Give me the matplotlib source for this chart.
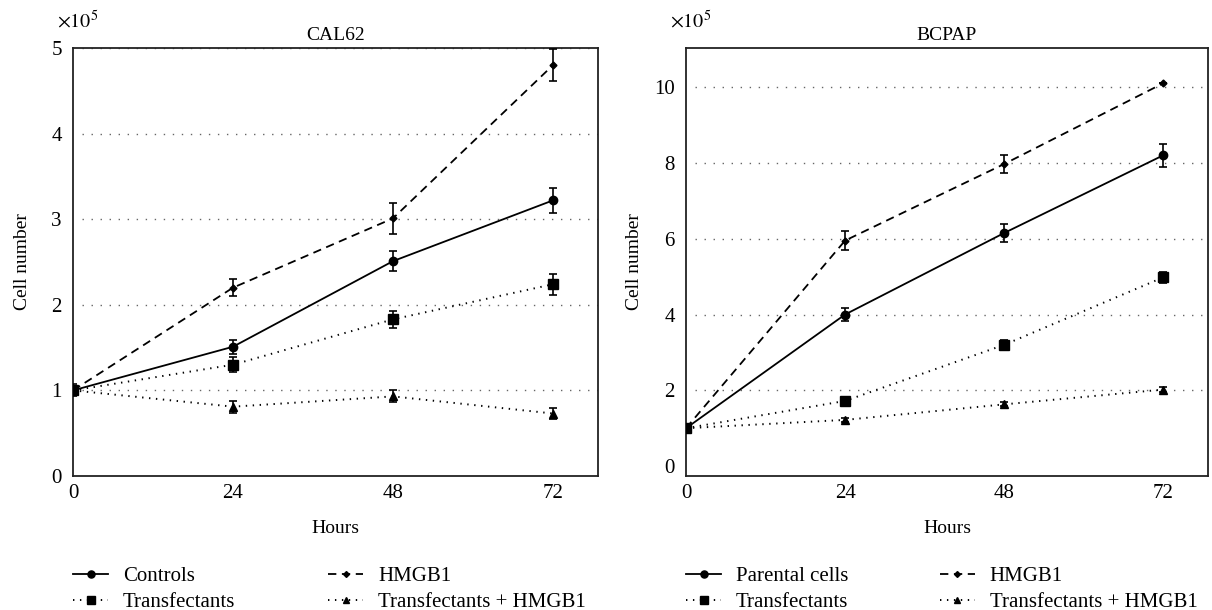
import matplotlib
matplotlib.use("Agg")
import matplotlib.pyplot as plt

plt.rcParams['font.family'] = ['Liberation Serif', 'DejaVu Serif']
plt.rcParams['mathtext.fontset'] = 'stix'
plt.rcParams['lines.scale_dashes'] = False

hours = [0, 24, 48, 72]
x_ticks = [0, 24, 48, 72]

# CAL62 (x10^5 cells)
cal_controls = [1.0, 1.51, 2.51, 3.22]
cal_controls_err = [0.04, 0.08, 0.12, 0.15]
cal_hmgb1 = [1.0, 2.2, 3.01, 4.8]
cal_hmgb1_err = [0.04, 0.1, 0.18, 0.19]
cal_transf = [1.0, 1.3, 1.83, 2.24]
cal_transf_err = [0.07, 0.09, 0.1, 0.12]
cal_transf_hmgb1 = [1.0, 0.81, 0.93, 0.73]
cal_transf_hmgb1_err = [0.05, 0.07, 0.07, 0.06]
cal_yticks = [0, 1, 2, 3, 4, 5]

# BCPAP (x10^5 cells)
bc_parental = [1.0, 4.0, 6.15, 8.2]
bc_parental_err = [0.0, 0.18, 0.25, 0.3]
bc_hmgb1 = [1.0, 5.95, 7.97, 10.1]
bc_hmgb1_err = [0.0, 0.25, 0.25, 0.0]
bc_transf = [1.0, 1.72, 3.2, 4.98]
bc_transf_err = [0.0, 0.04, 0.12, 0.15]
bc_transf_hmgb1 = [1.0, 1.22, 1.63, 2.02]
bc_transf_hmgb1_err = [0.0, 0.06, 0.05, 0.07]
bc_yticks = [0, 2, 4, 6, 8, 10]

fig = plt.figure(figsize=(12.12, 6.10), dpi=100)
W, H = 1212, 610
ax1 = fig.add_axes([73 / W, (H - 476) / H, 525 / W, 428 / H])
ax2 = fig.add_axes([686 / W, (H - 476) / H, 522 / W, 428 / H])

styles = {
    'solid': dict(ls='-', marker='o', ms=6, lw=1.3),
    'dash': dict(ls=(0, (6, 4)), marker='D', ms=3.5, lw=1.3),
    'dotsq': dict(ls=(0, (1, 4)), marker='s', ms=6.5, lw=1.4),
    'dottri': dict(ls=(0, (1, 4)), marker='^', ms=5.5, lw=1.4),
}


def draw(ax, series, title, yticks, ylim, ylab_x):
    handles = {}
    for key, (y, e, lab) in series:
        ax.errorbar(hours, y, yerr=e, fmt='none', ecolor='black', elinewidth=1.2,
                    capsize=3, capthick=1.2, zorder=3)
    for key, (y, e, lab) in series:
        st = styles[key]
        h, = ax.plot(hours, y, color='black', linestyle=st['ls'], marker=st['marker'],
                     markersize=st['ms'], linewidth=st['lw'], markerfacecolor='black',
                     markeredgecolor='black', label=lab, zorder=4)
        handles[key] = h
    ax.set_xlim(0, 78.75)
    ax.set_ylim(*ylim)
    ax.set_xticks(x_ticks)
    ax.set_xticklabels([str(v) for v in x_ticks])
    ax.set_yticks(yticks)
    ax.set_yticklabels([str(v) for v in yticks])
    ax.tick_params(length=0, labelsize=15)
    ax.tick_params(axis='y', pad=8)
    ax.tick_params(axis='x', pad=6)
    for sp in ax.spines.values():
        sp.set_linewidth(1.3)
        sp.set_color('#222222')
    for t in yticks[1:]:
        ax.axhline(t, xmin=0.017, xmax=1, color='#666666', lw=1.0,
                   ls=(0, (1, 5.5)), zorder=1)
    ax.set_title(title, fontsize=14, pad=6)
    ax.set_xlabel('Hours', fontsize=14)
    ax.set_ylabel('Cell number', fontsize=14)
    ax.xaxis.set_label_coords(0.5, -0.102)
    ax.yaxis.set_label_coords(ylab_x, 0.5)
    ax.text(-0.03, 1.06, r'$\times10^5$', transform=ax.transAxes, fontsize=14.5,
            ha='left', va='center')
    return handles


s1 = [
    ('solid', (cal_controls, cal_controls_err, 'Controls')),
    ('dash', (cal_hmgb1, cal_hmgb1_err, 'HMGB1')),
    ('dottri', (cal_transf_hmgb1, cal_transf_hmgb1_err, 'Transfectants + HMGB1')),
    ('dotsq', (cal_transf, cal_transf_err, 'Transfectants')),
]
s2 = [
    ('solid', (bc_parental, bc_parental_err, 'Parental cells')),
    ('dash', (bc_hmgb1, bc_hmgb1_err, 'HMGB1')),
    ('dottri', (bc_transf_hmgb1, bc_transf_hmgb1_err, 'Transfectants + HMGB1')),
    ('dotsq', (bc_transf, bc_transf_err, 'Transfectants')),
]

h1 = draw(ax1, s1, 'CAL62', cal_yticks, (0, 5), -0.08)
h2 = draw(ax2, s2, 'BCPAP', bc_yticks, (-0.26, 11.03), -0.082)


def legends(ax, h, labels):
    kw = dict(frameon=False, fontsize=15, handlelength=1.7, handletextpad=0.7,
              labelspacing=0.3, borderpad=0, borderaxespad=0, numpoints=1,
              loc='upper left', markerscale=0.85)
    l1 = ax.legend([h['solid'], h['dotsq']], labels[:2],
                   bbox_to_anchor=(0.0, -0.212), **kw)
    ax.add_artist(l1)
    ax.legend([h['dash'], h['dottri']], labels[2:],
              bbox_to_anchor=(255 / 525, -0.212), **kw)


legends(ax1, h1, ['Controls', 'Transfectants', 'HMGB1', 'Transfectants + HMGB1'])
legends(ax2, h2, ['Parental cells', 'Transfectants', 'HMGB1', 'Transfectants + HMGB1'])

fig.savefig('out.png', dpi=100)
